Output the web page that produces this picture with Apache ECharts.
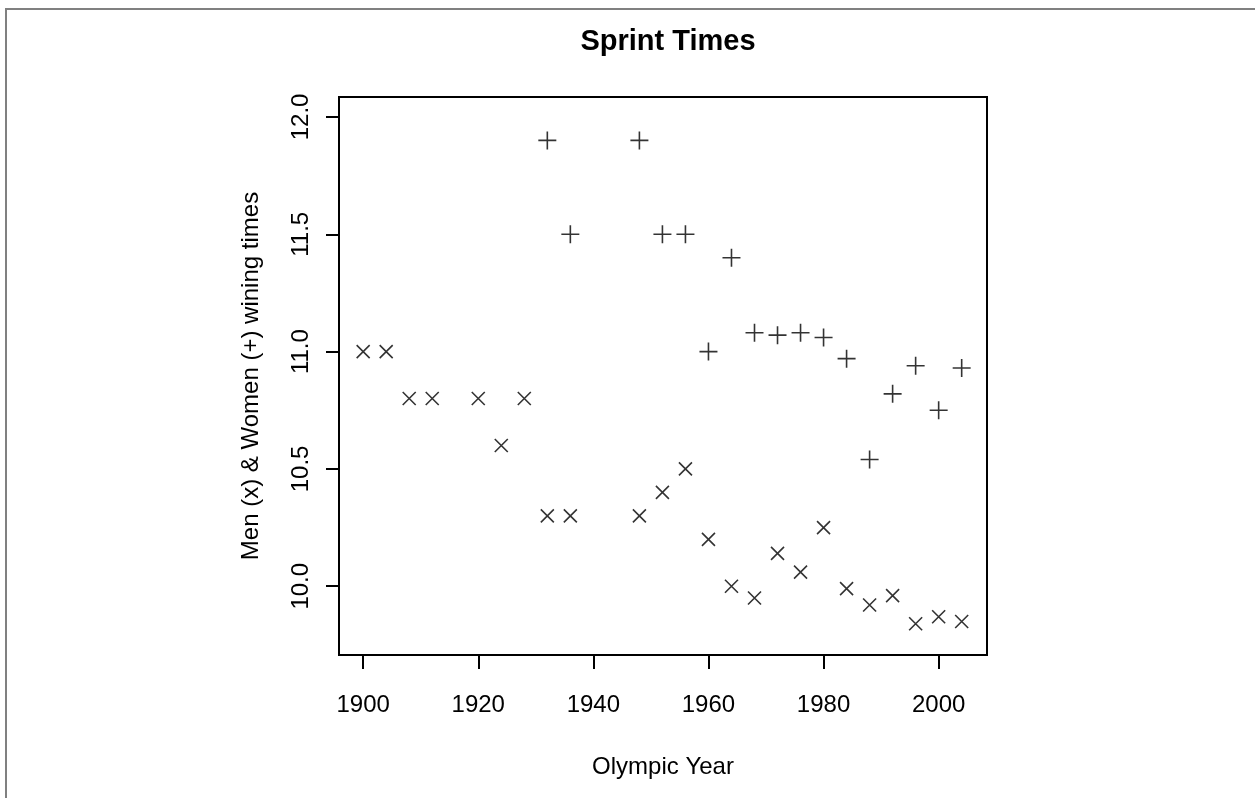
<!DOCTYPE html>
<html>
<head>
<meta charset="utf-8"/>
<script src="https://cdn.jsdelivr.net/npm/echarts@6/dist/echarts.min.js"></script>
<style>
  html,body{margin:0;padding:0;background:#fff;}
  #chart{width:1255px;height:798px;}
</style>
</head>
<body>
<div id="chart"></div>
<script>
// olympic 100m winning times
var menYears = [1900,1904,1908,1912,1920,1924,1928,1932,1936,1948,1952,1956,1960,1964,1968,1972,1976,1980,1984,1988,1992,1996,2000,2004];
var menTimes = [11.0,11.0,10.8,10.8,10.8,10.6,10.8,10.3,10.3,10.3,10.4,10.5,10.2,10.0,9.95,10.14,10.06,10.25,9.99,9.92,9.96,9.84,9.87,9.85];
var womenYears = [1932,1936,1948,1952,1956,1960,1964,1968,1972,1976,1980,1984,1988,1992,1996,2000,2004];
var womenTimes = [11.9,11.5,11.9,11.5,11.5,11.0,11.4,11.08,11.07,11.08,11.06,10.97,10.54,10.82,10.94,10.75,10.93];
var xTicks = [1900,1920,1940,1960,1980,2000];
var yTicks = [10.0,10.5,11.0,11.5,12.0];

var FONT = 'Liberation Sans, Arial, Helvetica, sans-serif';
var chart = echarts.init(document.getElementById('chart'));

var men = [], women = [];
for (var i = 0; i < menYears.length; i++) men.push([menYears[i], menTimes[i]]);
for (var j = 0; j < womenYears.length; j++) women.push([womenYears[j], womenTimes[j]]);

chart.setOption({
  backgroundColor: '#fff',
  animation: false,
  title: {
    text: 'Sprint Times',
    left: 663, top: 22, textAlign: 'center',
    textStyle: {fontFamily: FONT, fontSize: 29, fontWeight: 'bold', color: '#000'}
  },
  graphic: [{
    type: 'rect',
    shape: {x: 6, y: 9, width: 1400, height: 1000},
    style: {fill: 'none', stroke: '#808080', lineWidth: 2},
    silent: true
  }],
  grid: {
    left: 339, top: 97, right: 268, bottom: 143,
    show: true, borderColor: '#000', borderWidth: 2, backgroundColor: 'transparent'
  },
  xAxis: {
    type: 'value', min: 1895.8, max: 2008.4,
    name: 'Olympic Year', nameLocation: 'middle', nameGap: 100,
    nameTextStyle: {fontFamily: FONT, fontSize: 24, color: '#000'},
    axisLine: {show: true, lineStyle: {color: '#000', width: 2}},
    axisTick: {show: true, inside: false, length: 14, customValues: xTicks, lineStyle: {color: '#000', width: 2}},
    axisLabel: {
      customValues: xTicks, margin: 38, fontFamily: FONT, fontSize: 24, color: '#000',
      formatter: function (v) { return String(Math.round(v)); }
    },
    splitLine: {show: false}
  },
  yAxis: {
    type: 'value', min: 9.707, max: 12.085,
    name: 'Men (x) & Women (+) wining times', nameLocation: 'middle', nameGap: 76,
    nameTextStyle: {fontFamily: FONT, fontSize: 24, color: '#000'},
    axisLine: {show: true, lineStyle: {color: '#000', width: 2}},
    axisTick: {show: true, inside: false, length: 13, customValues: yTicks, lineStyle: {color: '#000', width: 2}},
    axisLabel: {
      customValues: yTicks, rotate: 90, margin: 26,
      fontFamily: FONT, fontSize: 24, color: '#000',
      formatter: function (v) { return v.toFixed(1); }
    },
    splitLine: {show: false}
  },
  series: [{
    name: 'Men', type: 'scatter', data: men,
    symbol: 'path://M0,0L10,10M10,0L0,10', symbolSize: 13,
    itemStyle: {color: 'none', borderColor: '#000', borderWidth: 1.6}
  }, {
    name: 'Women', type: 'scatter', data: women,
    symbol: 'path://M5,0L5,10M0,5L10,5', symbolSize: 18,
    itemStyle: {color: 'none', borderColor: '#000', borderWidth: 1.6}
  }]
});
</script>
</body>
</html>
